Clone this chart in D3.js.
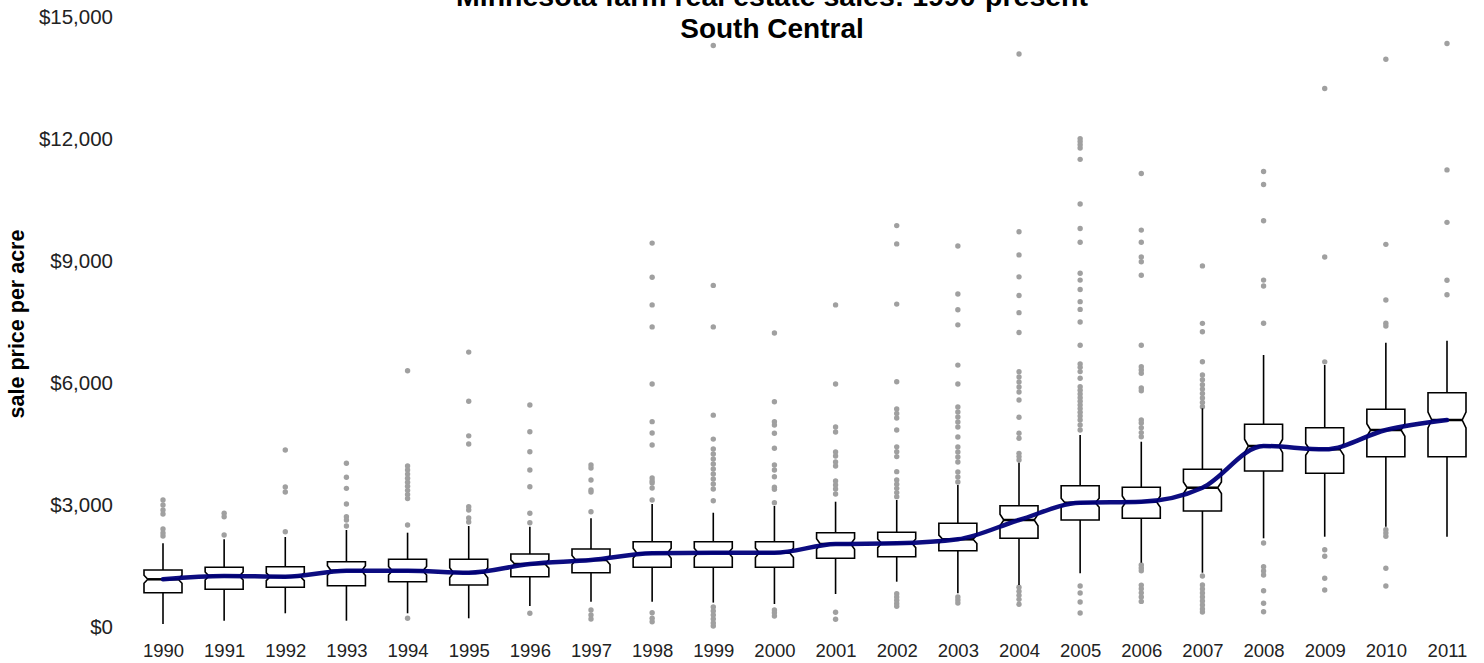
<!DOCTYPE html>
<html>
<head>
<meta charset="utf-8">
<script src="https://cdn.jsdelivr.net/npm/d3@7"></script>
<style>
  html, body { margin: 0; padding: 0; background: #fff; }
  svg { display: block; }
  text { font-family: "Liberation Sans", Arial, sans-serif; }
</style>
</head>
<body>
<svg id="chart" width="1484" height="663"></svg>
<script>
// ---------------- data ----------------
const years = ["1990","1991","1992","1993","1994","1995","1996","1997","1998","1999","2000",
               "2001","2002","2003","2004","2005","2006","2007","2008","2009","2010","2011"];
const whiskerLow = [74,155,337,155,337,214,516,622,622,600,566,811,1114,829,1033,1320,1581,1335,2181,2220,2466,2220];
const q1         = [843,927,976,1015,1114,1033,1237,1335,1468,1468,1468,1689,1729,1876,2181,2631,2673,2852,3836,3779,4187,4187];
const median     = [1173,1254,1237,1384,1384,1335,1549,1647,1812,1827,1827,2041,2058,2156,2631,3056,3081,3425,4451,4369,4844,5090];
const q3         = [1402,1468,1483,1606,1665,1665,1795,1918,2097,2097,2097,2319,2329,2550,2983,3474,3435,3878,4984,4900,5353,5761];
const whiskerHigh= [2058,2156,2213,2385,2319,2483,2466,2673,3024,2810,2975,3081,3123,3491,4040,4721,4556,5378,6688,6442,6990,7040];
const counts     = [80,75,70,60,70,65,75,70,65,80,70,60,80,105,80,140,75,130,120,150,140,160];
const outliers = [
  [3123,3000,2877,2780,2410,2311,2237],
  [2796,2712,2262],
  [4352,3442,3319,2343],
  [4025,3681,3410,3024,2712,2631,2483],
  [6300,3959,3860,3760,3660,3560,3460,3360,3260,3160,2508,214],
  [6760,5550,4700,4500,2958,2877,2680,2582],
  [5459,4802,4310,3860,3450,2796,2565,337],
  [3983,3910,3614,3369,3319,2835,418,295,197],
  [9440,8600,7920,7380,5975,5050,4770,4475,3664,3590,3541,3418,3123,352,214,130],
  [14300,8400,7380,5210,4620,4377,4254,4131,4008,3885,3762,3639,3516,3393,3106,492,393,295,197,98,25],
  [7230,5540,5048,4967,4763,4394,3983,3860,3696,3435,3386,3056,418,352,270],
  [7920,5975,4918,4795,4303,4205,4057,3959,3590,3492,3393,3270,361,189],
  [9870,9420,7940,6030,5360,5250,5140,4845,4430,4310,4190,3820,3615,3510,3410,3305,3205,820,740,660,580,510],
  [9370,8190,7800,7430,6440,5975,5409,5286,5163,5040,4918,4672,4426,4303,4180,4057,3811,3688,3565,738,664,590],
  [14090,9720,9150,8610,8150,7730,7240,6277,6147,6024,5901,5778,5581,5156,4763,4640,4270,4190,4106,980,880,780,680,560],
  [12010,11940,11860,11780,11500,10400,9800,9460,8700,8530,8300,8000,7810,7500,6930,6470,6385,6280,6115,5910,5820,5730,5640,5550,5460,5370,5280,5190,5090,4967,4845,1008,836,615,344],
  [11150,9760,9460,9100,8980,8650,6930,6400,6320,6240,5877,5810,5090,5016,4900,4780,4680,1525,1450,1385,1030,940,840,740,630],
  [8880,7467,7260,6523,6196,6080,5960,5850,5740,5630,5520,5417,1254,1033,934,836,738,639,541,443,369],
  [11200,10880,9990,8530,8385,7470,2065,1480,1380,1280,892,583,376],
  [13240,9100,6520,1900,1740,1200,910],
  [13960,9410,8040,7470,7400,2390,2310,2230,1443,1008],
  [14350,11240,9950,8525,8170]
];
const yTicks = [0,3000,6000,9000,12000,15000];
const titleLines = ["Minnesota farm real estate sales: 1990-present", "South Central"];
const yTitle = "sale price per acre";

// ---------------- drawing ----------------
const svg = d3.select("#chart");
svg.append("rect").attr("width",1484).attr("height",663).attr("fill","#fff");

const x = d3.scalePoint().domain(years).range([163, 1447]);
const y = d3.scaleLinear().domain([0, 15000]).range([627, 17]);
const boxW = 38;

// y axis
const yAxis = svg.append("g").attr("transform","translate(120,0)")
  .call(d3.axisLeft(y).tickValues(yTicks).tickSize(0).tickPadding(7)
        .tickFormat(d => "$" + d3.format(",")(d)));
yAxis.select(".domain").remove();
yAxis.selectAll("text").attr("font-size", 20.5).attr("fill", "#222")
  .attr("font-family", "'Liberation Sans', Arial, sans-serif");

// x axis
const xAxis = svg.append("g").attr("transform","translate(0,640)")
  .call(d3.axisBottom(x).tickSize(0).tickPadding(4));
xAxis.select(".domain").remove();
xAxis.selectAll("text").attr("font-size", 18.5).attr("fill", "#222")
  .attr("font-family", "'Liberation Sans', Arial, sans-serif");

// y title
svg.append("text")
  .attr("transform","translate(24,324) rotate(-90)")
  .attr("text-anchor","middle")
  .attr("font-weight","bold").attr("font-size",21.5).attr("fill","#000")
  .text(yTitle);

// title
svg.append("text").attr("x",772).attr("y",6).attr("text-anchor","middle")
  .attr("font-weight","bold").attr("font-size",28.5).text(titleLines[0]);
svg.append("text").attr("x",772).attr("y",38).attr("text-anchor","middle")
  .attr("font-weight","bold").attr("font-size",28).text(titleLines[1]);

// outliers
const pts = [];
years.forEach((yr,i) => outliers[i].forEach(v => pts.push({yr, v})));
svg.append("g").selectAll("circle").data(pts).join("circle")
  .attr("cx", d => x(d.yr)).attr("cy", d => y(d.v)).attr("r", 2.7)
  .attr("fill", "#a0a0a0");

// boxes
const boxes = years.map((yr,i) => ({
  yr, lo: whiskerLow[i], q1: q1[i], med: median[i], q3: q3[i], hi: whiskerHigh[i],
  nh: 1.58 * (q3[i] - q1[i]) / Math.sqrt(counts[i])
}));
const g = svg.append("g");
boxes.forEach(b => {
  const cx = x(b.yr), L = cx - boxW/2, R = cx + boxW/2;
  const nl = cx - boxW*0.4, nr = cx + boxW*0.4;
  const yq3 = y(b.q3), yq1 = y(b.q1), ym = y(b.med);
  const nTop = y(b.med + b.nh), nBot = y(b.med - b.nh);
  g.append("line").attr("x1",cx).attr("x2",cx).attr("y1",yq3).attr("y2",y(b.hi))
    .attr("stroke","#000").attr("stroke-width",1.6);
  g.append("line").attr("x1",cx).attr("x2",cx).attr("y1",yq1).attr("y2",y(b.lo))
    .attr("stroke","#000").attr("stroke-width",1.6);
  const p = d3.path();
  p.moveTo(L,yq3); p.lineTo(R,yq3); p.lineTo(R,nTop); p.lineTo(nr,ym); p.lineTo(R,nBot);
  p.lineTo(R,yq1); p.lineTo(L,yq1); p.lineTo(L,nBot); p.lineTo(nl,ym); p.lineTo(L,nTop); p.closePath();
  g.append("path").attr("d",p.toString()).attr("fill","#fff")
    .attr("stroke","#000").attr("stroke-width",1.6).attr("stroke-linejoin","miter");
  g.append("line").attr("x1",nl).attr("x2",nr).attr("y1",ym).attr("y2",ym)
    .attr("stroke","#000").attr("stroke-width",2.5);
});

// median trend line
const line = d3.line().x(d => x(d.yr)).y(d => y(d.med)).curve(d3.curveMonotoneX);
svg.append("path").datum(boxes).attr("d", line)
  .attr("fill","none").attr("stroke","#00007a").attr("stroke-width",4.5)
  .attr("stroke-linecap","round").attr("stroke-opacity",0.95);
</script>
</body>
</html>
